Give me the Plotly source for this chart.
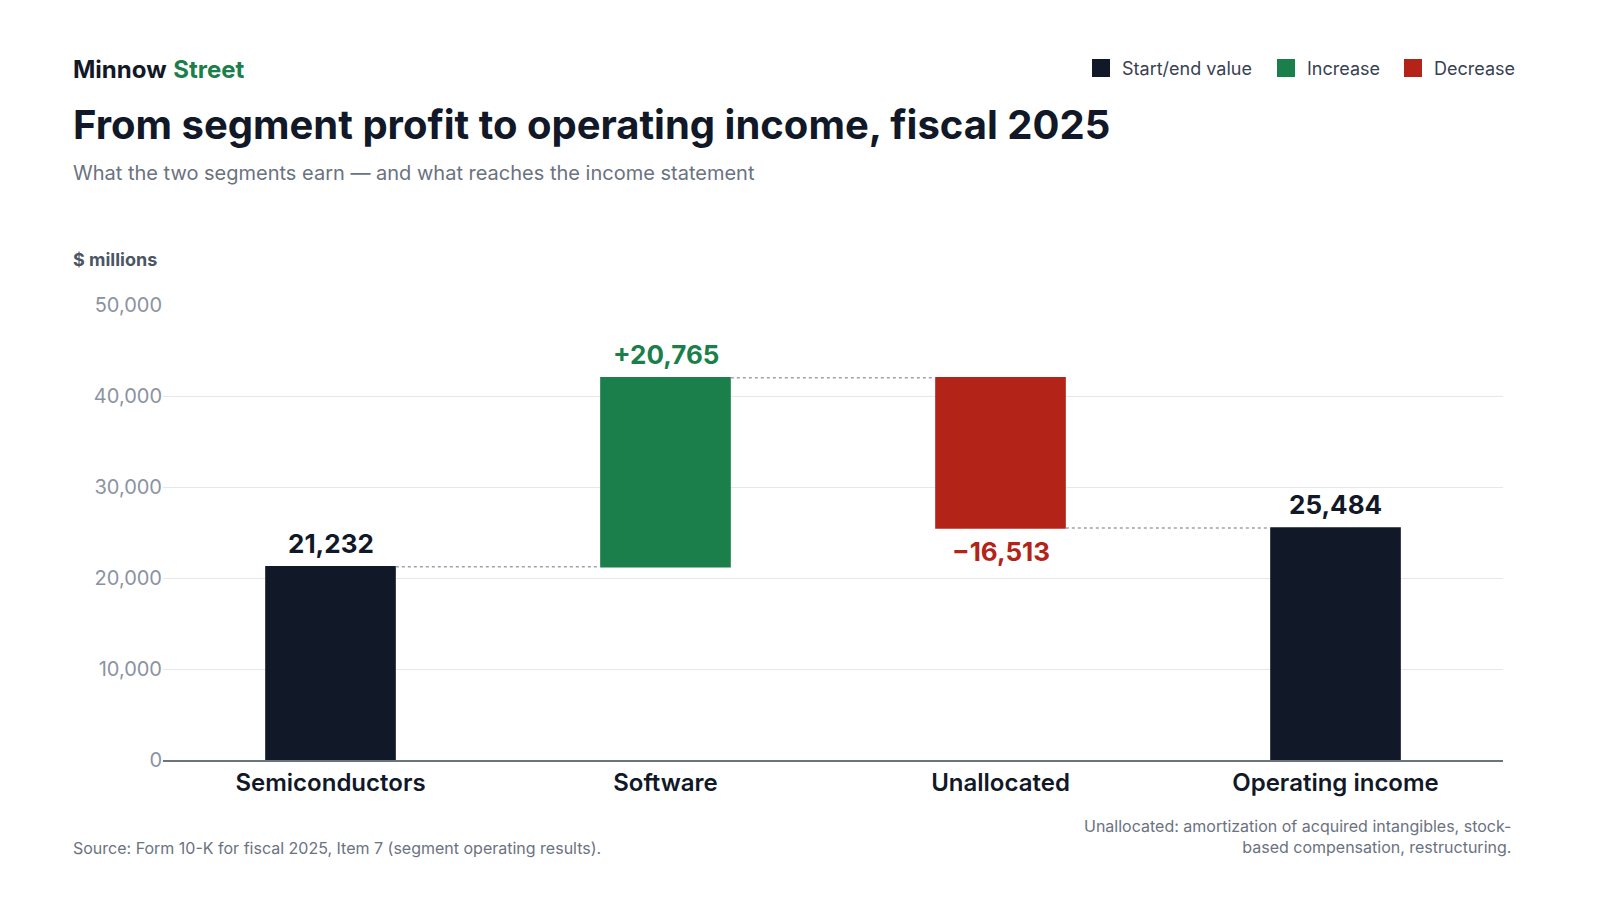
import plotly.graph_objects as go

categories = ["Semiconductors", "Software", "Unallocated", "Operating income"]
values = [21232, 20765, -16513, 25484]
measures = ["absolute", "relative", "relative", "total"]
labels = ["21,232", "+20,765", "\u221216,513", "25,484"]
label_colors = ["#111827", "#1a7f4b", "#b42318", "#111827"]
tick_vals = [0, 10000, 20000, 30000, 40000, 50000]
tick_text = ["0", "10,000", "20,000", "30,000", "40,000", "50,000"]

DARK, GREEN, RED = "#111827", "#1a7f4b", "#b42318"
F = "Inter"

fig = go.Figure(go.Waterfall(
    x=categories, y=values, measure=measures, width=0.39,
    totals=dict(marker=dict(color=DARK)),
    increasing=dict(marker=dict(color=GREEN)),
    decreasing=dict(marker=dict(color=RED)),
    connector=dict(line=dict(color="#9ca3af", width=1.5, dash="dot")),
    hoverinfo="skip",
))

# label positions from cumulative values
cum = 0
for i, (c, v, m) in enumerate(zip(categories, values, measures)):
    if m == "absolute":
        start, cum = 0, v
    elif m == "total":
        start = 0
    else:
        start, cum = cum, cum + v
    top = cum if m != "total" else cum
    if v >= 0 or m == "total":
        y, ya = max(start, cum), "bottom"
        yshift = 6
    else:
        y, ya = min(start, cum), "top"
        yshift = -6
    fig.add_annotation(x=c, y=y, text=f"<b>{labels[i]}</b>", showarrow=False,
                       yanchor=ya, yshift=yshift,
                       font=dict(family=F, size=26, color=label_colors[i]))

fig.update_layout(
    width=1600, height=900, plot_bgcolor="white", paper_bgcolor="white",
    margin=dict(l=155, r=105, t=297, b=148), showlegend=False,
    font=dict(family=F),
    yaxis=dict(range=[0, 50000], tickvals=tick_vals, ticktext=tick_text,
               gridcolor="#e5e7eb", zeroline=False, ticks="", ticklen=0,
               tickfont=dict(size=20, color="#8b93a1")),
    xaxis=dict(showline=True, linecolor="#6b7280", linewidth=1.5, ticks="",
               tickfont=dict(size=24, color=DARK, family=F + " SemiBold, Inter"),
               tickprefix="<b>", ticksuffix="</b>"),
)

def ann(x, y, text, size, color, xa="left", ya="middle"):
    fig.add_annotation(x=x, y=y, xref="paper", yref="paper", text=text, showarrow=False,
                       xanchor=xa, yanchor=ya, font=dict(family=F, size=size, color=color), align=xa)

def px(x): return (x - 155) / 1340
def py(y): return (752 - y) / 455

ann(px(63), py(61), "<b>Minnow</b> <b><span style='color:#1a7f4b'>Street</span></b>", 24, DARK)
ann(px(63), py(116), "<b>From segment profit to operating income, fiscal 2025</b>", 40, DARK)
ann(px(63), py(165), "What the two segments earn \u2014 and what reaches the income statement", 20, "#6b7280")
ann(px(63), py(252), "<b>$ millions</b>", 18, "#4b5563")
ann(px(63), py(840), "Source: Form 10-K for fiscal 2025, Item 7 (segment operating results).", 16, "#6b7280")
ann(px(1505), py(828), "Unallocated: amortization of acquired intangibles, stock-<br>based compensation, restructuring.", 16, "#6b7280", xa="right")

legend = [(1084, "Start/end value", DARK), (1269, "Increase", GREEN), (1396, "Decrease", RED)]
for x0, t, col in legend:
    fig.add_shape(type="rect", xref="paper", yref="paper", x0=px(x0), x1=px(x0 + 18),
                  y0=py(69), y1=py(51), fillcolor=col, line=dict(width=0))
    ann(px(x0 + 28), py(60), t, 18, "#374151")

fig.write_html("out.html")
